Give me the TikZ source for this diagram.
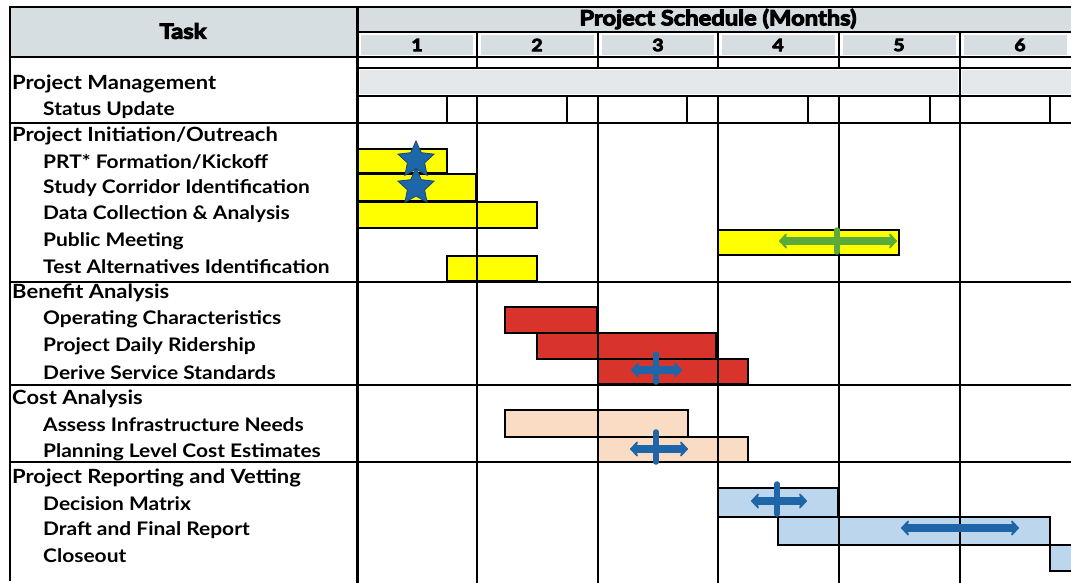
\documentclass[tikz,border=0pt]{standalone}
\usepackage{fontspec}
\setmainfont{Lato}[BoldFeatures={FakeStretch=1.12}]
\newfontfamily\heavyfont{Lato}[BoldFeatures={FakeBold=5,FakeStretch=1.13}]
\usetikzlibrary{arrows.meta,shapes.geometric}
\definecolor{hdrgrey}{HTML}{D7DEE2}
\definecolor{pmgrey}{HTML}{E4E8EB}
\definecolor{ybar}{HTML}{FFFF00}
\definecolor{rbar}{HTML}{D9342B}
\definecolor{pbar}{HTML}{FADCC5}
\definecolor{bbar}{HTML}{BCD6EE}
\definecolor{msblue}{HTML}{1F66A8}
\definecolor{msgreen}{HTML}{5AAB3A}
\tikzset{
  gridline/.style={line width=2.6pt, line cap=rect},
  barbox/.style={draw=black, line width=2.6pt},
  seclbl/.style={anchor=west, inner sep=0pt, font=\fontsize{19.6}{21}\selectfont\bfseries},
  sublbl/.style={anchor=west, inner sep=0pt, font=\fontsize{18.7}{20}\selectfont\bfseries},
  hdrlbl/.style={inner sep=0pt, font=\heavyfont\fontsize{21}{23}\selectfont\bfseries},
  monlbl/.style={inner sep=0pt, font=\heavyfont\fontsize{17}{19}\selectfont\bfseries},
  msarrow/.style={line width=8pt, {Stealth[length=9pt,width=19pt,round]}-{Stealth[length=9pt,width=19pt,round]}},
  mstick/.style={line width=5.5pt, line cap=round},
  msstar/.style={star, star points=5, star point ratio=2.1, minimum size=38pt, inner sep=0pt, fill=msblue, draw=msblue!70!black, line width=0.8pt}
}
\begin{document}
\begin{tikzpicture}[x=1pt,y=-1pt]
\useasboundingbox (0,0) rectangle (1071,583);
% header fills
\fill[hdrgrey] (10,7) rectangle (357,57);
\fill[hdrgrey] (357,7) rectangle (1071,32);
\foreach \a/\b in {357/477,477/598,598/718,718/839,839/960,960/1071}
  \fill[hdrgrey] (\a+4,35) rectangle (\b-4,55);
% project management band
\fill[pmgrey] (360,70) rectangle (958,94);
\fill[pmgrey] (962,70) rectangle (1071,94);
% bars: initiation (yellow)
\filldraw[barbox, fill=ybar] (358,149) rectangle (447,173);
\filldraw[barbox, fill=ybar] (358,174) rectangle (476,201);
\filldraw[barbox, fill=ybar] (358,202) rectangle (537,228);
\filldraw[barbox, fill=ybar] (718,230) rectangle (899,255);
\filldraw[barbox, fill=ybar] (447,256) rectangle (537,281);
% benefit (red)
\filldraw[barbox, fill=rbar] (505,307) rectangle (597,333);
\filldraw[barbox, fill=rbar] (537,333) rectangle (716,359);
\filldraw[barbox, fill=rbar] (598,359) rectangle (748,384);
% cost (peach)
\filldraw[barbox, fill=pbar] (505,410) rectangle (688,437);
\filldraw[barbox, fill=pbar] (598,437) rectangle (748,462);
% reporting (light blue)
\filldraw[barbox, fill=bbar] (718,488) rectangle (838,517);
\filldraw[barbox, fill=bbar] (778,517) rectangle (1050,545);
\filldraw[barbox, fill=bbar] (1050,545) rectangle (1075,571);
% grid lines
\draw[gridline] (10,7) -- (1071,7);
\draw[gridline] (357,32) -- (1071,32);
\draw[gridline] (10,57) -- (1071,57);
\draw[gridline] (357,68) -- (1071,68);
\draw[gridline] (357,96) -- (1071,96);
\foreach \yy in {123,282,385,462}
  \draw[gridline] (10,\yy) -- (1071,\yy);
\draw[gridline] (10,7) -- (10,580);
\draw[line width=3pt] (357,7) -- (357,583);
\foreach \xx in {477,598,718,839}{
  \draw[gridline] (\xx,32) -- (\xx,68);
  \draw[gridline] (\xx,96) -- (\xx,583);
}
\draw[gridline] (960,32) -- (960,583);
\foreach \xx in {447,567,687,808,930,1050}
  \draw[gridline] (\xx,96) -- (\xx,123);
% milestones
\node[msstar] (st1) at (416,160) {};
\node[msstar] (st2) at (416,187) {};
\coordinate (pmA) at (779,241); \coordinate (pmB) at (897,241);
\draw[msarrow, msgreen] (pmA) -- (pmB);
\draw[mstick, msgreen] (837,230) -- (837,252);
\coordinate (dsA) at (631,370); \coordinate (dsB) at (682,370);
\draw[msarrow, msblue] (dsA) -- (dsB);
\draw[mstick, msblue] (656,354) -- (656,382);
\coordinate (plA) at (630,449); \coordinate (plB) at (688,449);
\draw[msarrow, msblue] (plA) -- (plB);
\draw[mstick, msblue] (656,432) -- (656,462);
\coordinate (dmA) at (751,501); \coordinate (dmB) at (807,501);
\draw[msarrow, msblue] (dmA) -- (dmB);
\draw[mstick, msblue] (777,484) -- (777,514);
\coordinate (drA) at (901,528); \coordinate (drB) at (1019,528);
\draw[msarrow, msblue] (drA) -- (drB);
% header text
\node[hdrlbl] (task) at (183,31) {Task};
\node[hdrlbl] (sched) at (718,19) {Project Schedule (Months)};
\node[monlbl] (m1) at (417,45) {1};
\node[monlbl] (m2) at (537,45) {2};
\node[monlbl] (m3) at (658,45) {3};
\node[monlbl] (m4) at (778,45) {4};
\node[monlbl] (m5) at (899,45) {5};
\node[monlbl] (m6) at (1020,45) {6};
% task labels
\node[seclbl] (l1) at (12,84) {Project Management};
\node[sublbl] (l2) at (43,110) {Status Update};
\node[seclbl] (l3) at (12,136) {Project Initiation/Outreach};
\node[sublbl] (l4) at (43,162) {PRT* Formation/Kickoff};
\node[sublbl] (l5) at (43,188) {Study Corridor Identification};
\node[sublbl] (l6) at (43,214) {Data Collection \& Analysis};
\node[sublbl] (l7) at (43,241) {Public Meeting};
\node[sublbl] (l8) at (43,267) {Test Alternatives Identification};
\node[seclbl] (l9) at (12,293) {Benefit Analysis};
\node[sublbl] (l10) at (43,319) {Operating Characteristics};
\node[sublbl] (l11) at (43,346) {Project Daily Ridership};
\node[sublbl] (l12) at (43,373) {Derive Service Standards};
\node[seclbl] (l13) at (12,399) {Cost Analysis};
\node[sublbl] (l14) at (43,425) {Assess Infrastructure Needs};
\node[sublbl] (l15) at (43,452) {Planning Level Cost Estimates};
\node[seclbl] (l16) at (12,478) {Project Reporting and Vetting};
\node[sublbl] (l17) at (43,504) {Decision Matrix};
\node[sublbl] (l18) at (43,530) {Draft and Final Report};
\node[sublbl] (l19) at (43,556) {Closeout};
\end{tikzpicture}
\end{document}
